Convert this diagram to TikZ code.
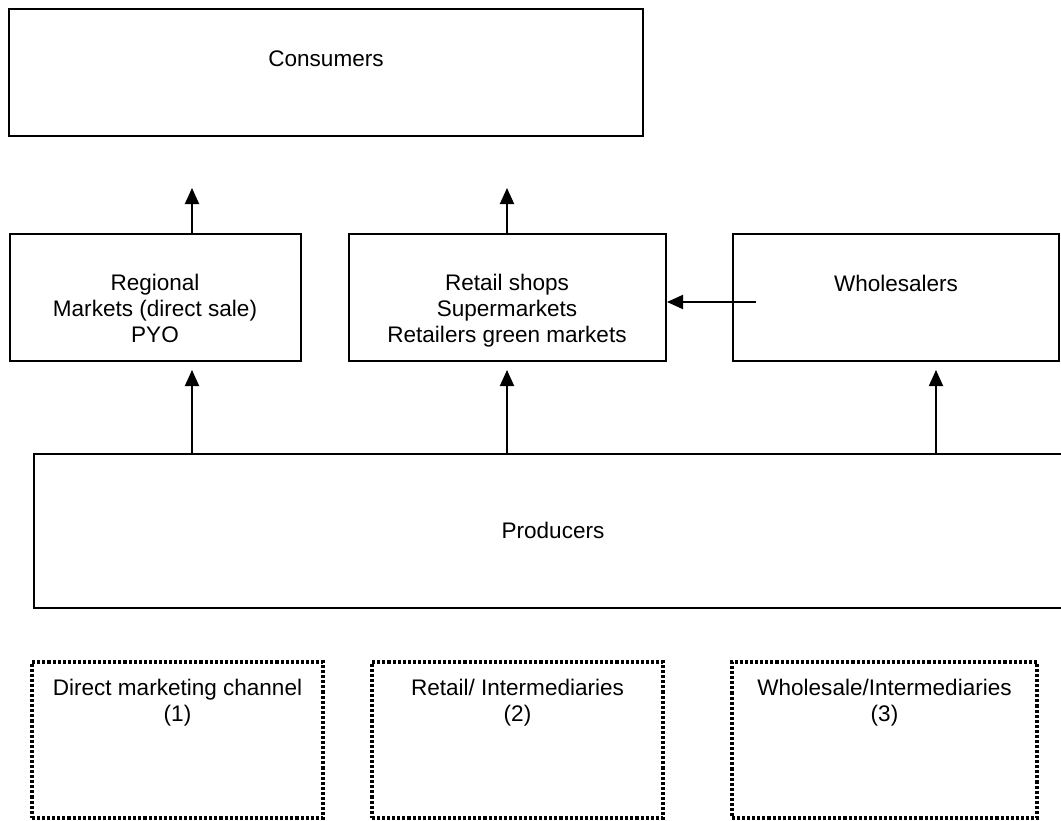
\documentclass[tikz,border=0pt]{standalone}
\usepackage{fontspec}
\setmainfont{Liberation Sans}
\usetikzlibrary{arrows.meta}
\begin{document}
\begin{tikzpicture}[x=0.75pt,y=-0.75pt,
  box/.style={draw,line width=1.5pt,inner sep=0pt,anchor=center},
  dotbox/.style={draw,line width=2.3pt,dash pattern=on 2.3pt off 1.5pt,inner sep=0pt,anchor=center},
  lbl/.style={font=\fontsize{16.9}{19.3}\selectfont,align=center,inner sep=0pt,anchor=base},
  arr/.style={line width=1.4pt,-{Triangle[length=12pt,width=10.5pt]}}]
\useasboundingbox (0,0) rectangle (1061,821);
% boxes
\node[box,minimum width=475.5pt,minimum height=95.25pt] (cons) at (326,72.5) {};
\node[box,minimum width=218.25pt,minimum height=95.25pt] (reg) at (155.5,297.5) {};
\node[box,minimum width=237.75pt,minimum height=95.25pt] (ret) at (507.5,297.5) {};
\node[box,minimum width=244.5pt,minimum height=95.25pt] (whs) at (896,297.5) {};
\node[box,minimum width=778.5pt,minimum height=115.5pt] (prod) at (553,531) {};
\node[dotbox,minimum width=218.25pt,minimum height=117pt] (ch1) at (177.5,740) {};
\node[dotbox,minimum width=218.25pt,minimum height=117pt] (ch2) at (517.5,740) {};
\node[dotbox,minimum width=228.75pt,minimum height=117pt] (ch3) at (884.5,740) {};
% labels (base anchor = baseline of the last line)
\node[lbl] (cons-t) at (326,66) {Consumers};
\node[lbl] (reg-t) at (155,342) {Regional\\Markets (direct sale)\\PYO};
\node[lbl] (ret-t) at (507,342) {Retail shops\\Supermarkets\\Retailers green markets};
\node[lbl] (whs-t) at (896,291) {Wholesalers};
\node[lbl] (prod-t) at (553,538) {Producers};
\node[lbl] (ch1-t) at (177.5,721) {Direct marketing channel\\(1)};
\node[lbl] (ch2-t) at (517.5,721) {Retail/ Intermediaries\\(2)};
\node[lbl] (ch3-t) at (884.5,721) {Wholesale/Intermediaries\\(3)};
% arrow end points
\coordinate (up1) at (192,188);
\coordinate (up2) at (507,188);
\coordinate (pr1) at (192,370);
\coordinate (pr2) at (507,370);
\coordinate (pr3) at (936,370);
\coordinate (ws) at (756,302);
% connectors
\draw[arr] (up1 |- reg.north) -- (up1);
\draw[arr] (up2 |- ret.north) -- (up2);
\draw[arr] (pr1 |- prod.north) -- (pr1);
\draw[arr] (pr2 |- prod.north) -- (pr2);
\draw[arr] (pr3 |- prod.north) -- (pr3);
\draw[arr] (ws) -- (ws -| ret.east);
\end{tikzpicture}
\end{document}
